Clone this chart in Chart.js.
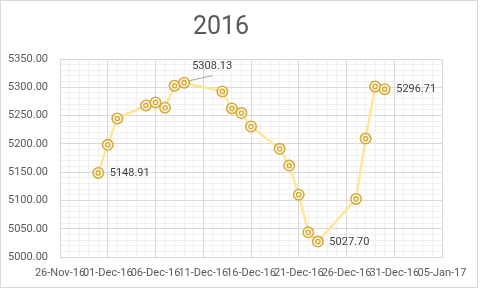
<!DOCTYPE html>
<html>
<head>
<meta charset="utf-8">
<script src="https://cdn.jsdelivr.net/npm/chart.js@4.4.1/dist/chart.umd.min.js"></script>
<style>
  html, body { margin: 0; padding: 0; background: #ffffff; }
  #wrap { width: 480px; height: 289px; }
</style>
</head>
<body>
<div id="wrap"><canvas id="chart" width="480" height="289"></canvas></div>
<script>
// Trading days of December 2016 and their closing values
const tradeDates = ['30-Nov-16', '01-Dec-16', '02-Dec-16', '05-Dec-16', '06-Dec-16', '07-Dec-16',
  '08-Dec-16', '09-Dec-16', '13-Dec-16', '14-Dec-16', '15-Dec-16', '16-Dec-16', '19-Dec-16',
  '20-Dec-16', '21-Dec-16', '22-Dec-16', '23-Dec-16', '27-Dec-16', '28-Dec-16', '29-Dec-16',
  '30-Dec-16'];
const closeValues = [5148.91, 5198.5, 5245.0, 5268.0, 5273.3, 5264.0, 5302.8, 5308.13, 5292.7,
  5262.7, 5254.5, 5230.9, 5191.4, 5161.9, 5110.6, 5044.0, 5027.70, 5103.0, 5209.6, 5301.6,
  5296.71];
// Points that carry a value label
const labelledDates = ['30-Nov-16', '09-Dec-16', '23-Dec-16', '30-Dec-16'];
// Axis range
const axisStartDate = '26-Nov-16';
const axisEndDate = '05-Jan-17';
const yMin = 5000, yMax = 5350;
const titleText = '2016';

const MONTHS = ['Jan','Feb','Mar','Apr','May','Jun','Jul','Aug','Sep','Oct','Nov','Dec'];
const DAY_MS = 86400000;
function parseDate(s) {
  const [d, m, y] = s.split('-');
  return Date.UTC(2000 + Number(y), MONTHS.indexOf(m), Number(d));
}
function formatDate(ms) {
  const dt = new Date(ms);
  const dd = String(dt.getUTCDate()).padStart(2, '0');
  const yy = String(dt.getUTCFullYear() % 100).padStart(2, '0');
  return dd + '-' + MONTHS[dt.getUTCMonth()] + '-' + yy;
}
const origin = parseDate(axisStartDate);
const dayOf = s => Math.round((parseDate(s) - origin) / DAY_MS);
const xMax = dayOf(axisEndDate);

const points = tradeDates.map((d, i) => ({ x: dayOf(d), y: closeValues[i] }));

const FONT = 'Roboto, "Liberation Sans", sans-serif';
const TICK_COLOR = '#595959';
const MAJOR_GRID = '#d9d9d9';
const MINOR_GRID = '#f0f0f0';
const GOLD = '#d4ab3c';

// Value labels beside selected points; the highest one sits above with a leader line
const valueLabels = {
  id: 'valueLabels',
  afterDatasetsDraw(chart) {
    const meta = chart.getDatasetMeta(0);
    const ctx = chart.ctx;
    const maxVal = Math.max(...closeValues);
    ctx.save();
    ctx.font = '11px ' + FONT;
    ctx.fillStyle = '#404040';
    ctx.textBaseline = 'middle';
    ctx.textAlign = 'left';
    labelledDates.forEach(d => {
      const i = tradeDates.indexOf(d);
      const el = meta.data[i];
      const v = closeValues[i];
      const txt = v.toFixed(2);
      if (v === maxVal) {
        ctx.strokeStyle = '#a6a6a6';
        ctx.lineWidth = 1;
        ctx.beginPath();
        ctx.moveTo(el.x + 5, el.y - 2);
        ctx.lineTo(el.x + 28, el.y - 7);
        ctx.stroke();
        ctx.fillText(txt, el.x + 8, el.y - 16);
      } else {
        ctx.fillText(txt, el.x + 11.5, el.y + 0.5);
      }
    });
    ctx.restore();
  }
};

// Light outer frame of the chart area
const frame = {
  id: 'frame',
  beforeDraw(chart) {
    const ctx = chart.ctx;
    ctx.save();
    ctx.fillStyle = '#ffffff';
    ctx.fillRect(0, 0, chart.width, chart.height);
    ctx.strokeStyle = '#d9d9d9';
    ctx.lineWidth = 1;
    ctx.strokeRect(0.5, 0.5, 477, 287);
    ctx.restore();
  }
};

new Chart(document.getElementById('chart'), {
  type: 'line',
  data: {
    datasets: [
      {
        // connecting line and outer ring of each marker
        data: points,
        order: 1,
        borderColor: '#ffe699',
        borderWidth: 2.5,
        tension: 0,
        pointRadius: 5.2,
        pointBorderWidth: 1.6,
        pointBorderColor: GOLD,
        pointBackgroundColor: '#fffaf0',
        xAxisID: 'x', yAxisID: 'y'
      },
      {
        // inner ring of each marker
        data: points,
        order: 0,
        showLine: false,
        pointRadius: 2.2,
        pointBorderWidth: 1.3,
        pointBorderColor: GOLD,
        pointBackgroundColor: '#ffeebb',
        xAxisID: 'x', yAxisID: 'y'
      }
    ]
  },
  options: {
    responsive: false,
    animation: false,
    events: [],
    layout: { padding: { left: 0, right: 38, top: 0, bottom: 0 } },
    plugins: {
      legend: { display: false },
      tooltip: { enabled: false },
      title: {
        display: true,
        text: titleText,
        color: TICK_COLOR,
        font: { family: FONT, size: 25, weight: 'normal' },
        padding: { top: 13, bottom: 16 }
      }
    },
    scales: {
      xMinor: {
        type: 'linear', position: 'bottom', min: 0, max: xMax,
        ticks: { display: false, stepSize: 1 },
        grid: { color: MINOR_GRID, lineWidth: 1, drawTicks: false, z: -2 },
        border: { display: false },
        afterFit(s) { s.height = 0; }
      },
      yMinor: {
        type: 'linear', position: 'left', min: yMin, max: yMax,
        ticks: { display: false, stepSize: 10 },
        grid: { color: MINOR_GRID, lineWidth: 1, drawTicks: false, z: -2 },
        border: { display: false },
        afterFit(s) { s.width = 0; }
      },
      x: {
        type: 'linear', position: 'bottom', min: 0, max: xMax,
        ticks: {
          stepSize: 5, autoSkip: false, maxRotation: 0, minRotation: 0,
          color: TICK_COLOR, padding: 9,
          font: { family: FONT, size: 11 },
          callback: v => formatDate(origin + v * DAY_MS)
        },
        grid: { color: MAJOR_GRID, lineWidth: 1, drawTicks: false },
        border: { display: true, color: MAJOR_GRID },
        afterFit(s) { s.height = 31.7; }
      },
      y: {
        type: 'linear', position: 'left', min: yMin, max: yMax,
        ticks: {
          stepSize: 50, color: TICK_COLOR, padding: 12,
          font: { family: FONT, size: 11 },
          callback: v => v.toFixed(2)
        },
        grid: { color: MAJOR_GRID, lineWidth: 1, drawTicks: false },
        border: { display: true, color: MAJOR_GRID },
        afterFit(s) { s.width = 60; }
      }
    }
  },
  plugins: [frame, valueLabels]
});
</script>
</body>
</html>
